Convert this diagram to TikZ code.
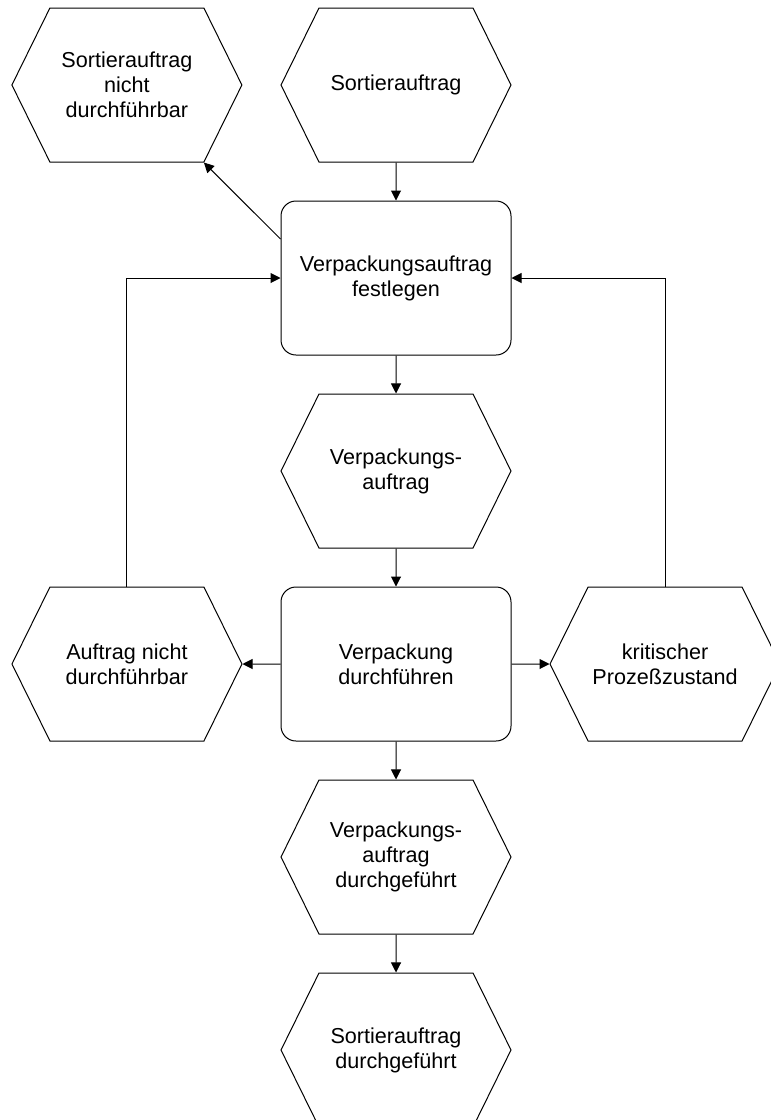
\documentclass[tikz,border=0pt]{standalone}
\usepackage{fontspec}
\setmainfont{Liberation Sans}
\usepackage{tikz}
\usetikzlibrary{positioning}
\usetikzlibrary{arrows.meta}
\usetikzlibrary{shapes.symbols}

\begin{document}
\begin{tikzpicture}[
x=0.5pt, y=-0.5pt,
node distance=19pt,
every node/.style={font=\fontsize{10.8}{12.5}\selectfont, align=center},
Ereignis/.style={signal, signal to=west and east, signal pointer angle=127.46,
  draw, line width=0.5pt, inner sep=0pt, minimum width=115pt, minimum height=77pt},
Funktion/.style={rectangle, rounded corners=7.5pt, draw, line width=0.5pt,
  inner sep=0pt, minimum width=115pt, minimum height=77pt},
Pfeil/.style={draw, line width=0.5pt, -{Triangle[length=5pt, width=5pt]}}
]
\useasboundingbox (0,0) rectangle (771,1120);
\clip (0,0) rectangle (771,1120);

% middle column
\node[Ereignis] (sa) at (396,85) {Sortierauftrag};
\node[Funktion, below=of sa] (vfest) {Verpackungsauftrag\\festlegen};
\node[Ereignis, below=of vfest] (va) {Verpackungs-\\auftrag};
\node[Funktion, below=of va] (vdurch) {Verpackung\\durchführen};
\node[Ereignis, below=of vdurch] (vad) {Verpackungs-\\auftrag\\durchgeführt};
\node[Ereignis, below=of vad] (sad) {Sortierauftrag\\durchgeführt};

% side events
\node[Ereignis, left=of sa] (sanf) {Sortierauftrag\\nicht\\durchführbar};
\node[Ereignis, left=of vdurch] (anicht) {Auftrag nicht\\durchführbar};
\node[Ereignis, right=of vdurch] (krit) {kritischer\\Prozeßzustand};

\draw[Pfeil] (sa) -- (vfest);
\draw[Pfeil] (vfest) -- (va);
\draw[Pfeil] (va) -- (vdurch);
\draw[Pfeil] (vdurch) -- (vad);
\draw[Pfeil] (vad) -- (sad);
\draw[Pfeil] (vdurch) -- (anicht);
\draw[Pfeil] (vdurch) -- (krit);
\draw[Pfeil] ([yshift=19.5pt]vfest.west) -- ([xshift=38.5pt]sanf.south);

% loops back
\draw[Pfeil] (anicht.north) |- (vfest.west);
\draw[Pfeil] (krit.north) |- (vfest.east);

\end{tikzpicture}
\end{document}
